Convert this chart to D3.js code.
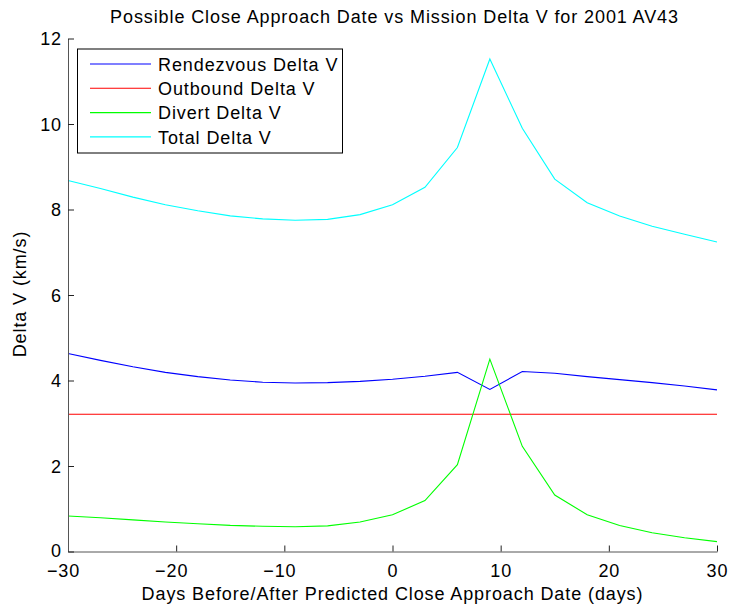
<!DOCTYPE html>
<html><head><meta charset="utf-8">
<script src="https://cdn.jsdelivr.net/npm/d3@7"></script>
<style>
body{margin:0;background:#fff;}
text{font-family:"Liberation Sans",Arial,Helvetica,sans-serif;letter-spacing:0.9px;}
</style></head>
<body><svg id="c" width="732" height="610"></svg>
<script>
const days = [-30,-27,-24,-21,-18,-15,-12,-9,-6,-3,0,3,6,9,12,15,18,21,24,27,30];
const rendezvous = [4.63,4.47,4.32,4.19,4.09,4.01,3.96,3.94,3.95,3.98,4.03,4.10,4.19,3.79,4.21,4.17,4.09,4.02,3.95,3.87,3.78];
const outbound = [3.21,3.21,3.21,3.21,3.21,3.21,3.21,3.21,3.21,3.21,3.21,3.21,3.21,3.21,3.21,3.21,3.21,3.21,3.21,3.21,3.21];
const divert = [0.83,0.79,0.74,0.69,0.65,0.61,0.59,0.58,0.60,0.69,0.86,1.19,2.03,4.50,2.46,1.32,0.86,0.61,0.44,0.32,0.23];
const total = [8.68,8.49,8.29,8.11,7.97,7.85,7.78,7.75,7.77,7.88,8.11,8.52,9.45,11.52,9.90,8.71,8.16,7.85,7.61,7.42,7.24];
const xTicks = [-30,-20,-10,0,10,20,30];
const yTicks = [0,2,4,6,8,10,12];
const seriesNames = ["Rendezvous Delta V","Outbound Delta V","Divert Delta V","Total Delta V"];
const seriesColors = ["#0000ff","#ff0000","#00ff00","#00ffff"];
const seriesData = [rendezvous,outbound,divert,total];

const svg = d3.select("#c");
const L=68, R=717, T=38.5, B=551.5;
const FS = 18;
const x = d3.scaleLinear().domain([-30,30]).range([L,R]);
const y = d3.scaleLinear().domain([0,12]).range([B,T]);

// lines
const line = d3.line().x((d,i)=>x(days[i])).y(d=>y(d));
seriesData.forEach((s,k)=>{
  svg.append("path").attr("d",line(s)).attr("fill","none")
    .attr("stroke",seriesColors[k]).attr("stroke-width",1.1);
});

// axes
const xAxis = d3.axisBottom(x).tickValues(xTicks).tickSizeInner(-6).tickSizeOuter(0).tickPadding(12.5)
  .tickFormat(d=>d<0?"\u2212"+Math.abs(d):d);
const gx = svg.append("g").attr("transform",`translate(0,${B})`).call(xAxis);
gx.selectAll(".tick text").attr("dx",d=>d<0?-5:0);
const yAxis = d3.axisLeft(y).tickValues(yTicks).tickSizeInner(-6).tickSizeOuter(0).tickPadding(6);
const gy = svg.append("g").attr("transform",`translate(${L},0)`).call(yAxis);
[gx,gy].forEach(g=>{
  g.select(".domain").attr("stroke","#555");
  g.selectAll(".tick line").attr("stroke","#222");
  g.selectAll(".tick text").attr("font-size",FS).attr("fill","#000")
    .attr("font-family","'Liberation Sans',Arial,sans-serif");
});
gy.selectAll(".tick text").attr("dy",d=>d===0?"0.26em":"0.36em");

// title and labels
svg.append("text").attr("x",(L+R)/2+2).attr("y",22.5).attr("text-anchor","middle")
  .attr("font-size",FS).text("Possible Close Approach Date vs Mission Delta V for 2001 AV43");
svg.append("text").attr("x",(L+R)/2).attr("y",599.5).attr("text-anchor","middle")
  .attr("font-size",FS).text("Days Before/After Predicted Close Approach Date (days)");
svg.append("text").attr("transform",`translate(25.5,294) rotate(-90)`).attr("text-anchor","middle")
  .attr("font-size",FS).text("Delta V (km/s)");

// legend
const lg = svg.append("g");
lg.append("rect").attr("x",77.5).attr("y",49).attr("width",265).attr("height",104)
  .attr("fill","#fff").attr("stroke","#000").attr("stroke-width",1);
seriesNames.forEach((n,k)=>{
  const yy = 64 + k*24.3;
  lg.append("line").attr("x1",90).attr("x2",151).attr("y1",yy).attr("y2",yy)
    .attr("stroke",seriesColors[k]).attr("stroke-width",1.1);
  lg.append("text").attr("x",158).attr("y",yy+6.7).attr("font-size",FS).text(n);
});
</script></body></html>
